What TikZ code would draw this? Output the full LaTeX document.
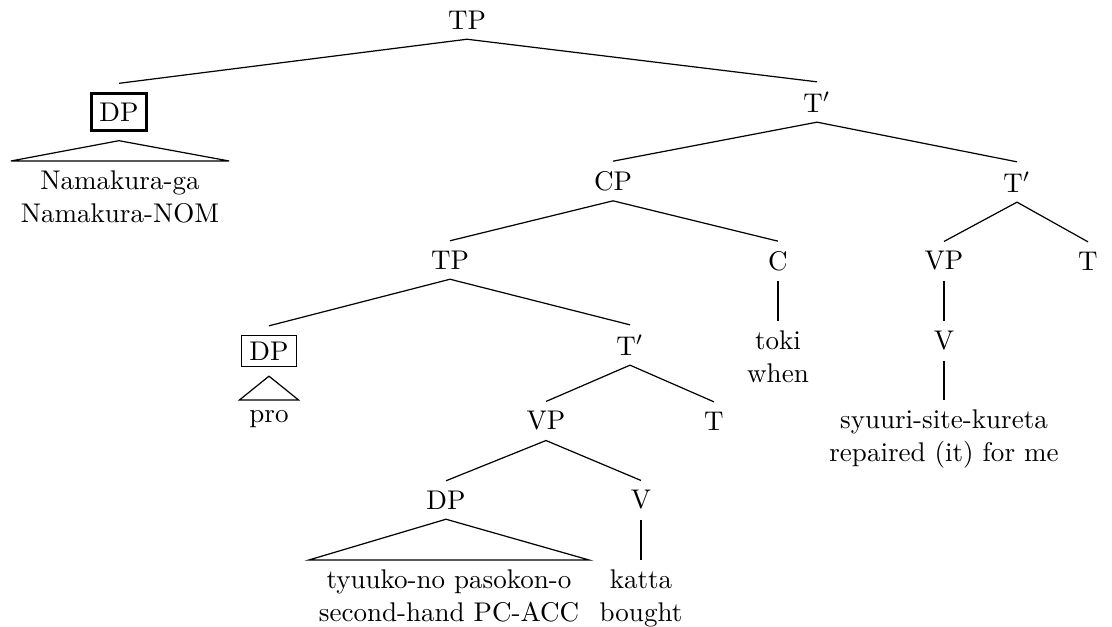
\documentclass[tikz,border=0pt]{standalone}
\usepackage{tikz}
\tikzstyle{cat} = [inner sep=3.5pt]
\tikzstyle{leaf} = [inner sep=3.5pt, align=center, anchor=north]
\tikzstyle{boxcat} = [draw, inner xsep=3pt, inner ysep=2.3pt, outer sep=3.6pt]
\tikzstyle{thickbox} = [draw, very thick, inner xsep=3pt, inner ysep=3.4pt, outer sep=3.8pt]
\tikzstyle{branch} = [line width=0.45pt]

\begin{document}
\begin{tikzpicture}[x=0.37pt, y=-0.37pt]
\useasboundingbox (0,0) rectangle (1112,627);

% Categories
\node (tp) [cat] at (467,20) {TP};
\node (dpsubj) [thickbox] at (119,112) {DP};
\node (tbar) [cat] at (817,102) {T$'$};
\node (cp) [cat] at (613,181) {CP};
\node (tbarr) [cat] at (1017,182) {T$'$};
\node (tpemb) [cat] at (450,260) {TP};
\node (c) [cat] at (778,261) {C};
\node (vpr) [cat] at (944,261) {VP};
\node (tr) [cat] at (1088,261) {T};
\node (dppro) [boxcat] at (269,351) {DP};
\node (tbaremb) [cat] at (630,345) {T$'$};
\node (vr) [cat] at (944,341) {V};
\node (vpemb) [cat] at (546,421) {VP};
\node (temb) [cat] at (714,421) {T};
\node (dpobj) [cat] at (446,500) {DP};
\node (vemb) [cat] at (641,500) {V};

% Leaves
\node (namakura) [leaf] at (120,161) {Namakura-ga\\Namakura-NOM};
\node (pro) [leaf] at (269,400) {pro};
\node (toki) [leaf] at (778,321) {toki\\when};
\node (syuuri) [leaf] at (944,400) {syuuri-site-kureta\\repaired (it) for me};
\node (pasokon) [leaf] at (449,560) {tyuuko-no pasokon-o\\second-hand PC-ACC};
\node (katta) [leaf] at (641,560) {katta\\bought};

% Branches
\draw [branch] (tp.south) -- (dpsubj.north);
\draw [branch] (tp.south) -- (tbar.north);
\draw [branch] (tbar.south) -- (cp.north);
\draw [branch] (tbar.south) -- (tbarr.north);
\draw [branch] (cp.south) -- (tpemb.north);
\draw [branch] (cp.south) -- (c.north);
\draw [branch] (tbarr.south) -- (vpr.north);
\draw [branch] (tbarr.south) -- (tr.north);
\draw [branch] (tpemb.south) -- (dppro.north);
\draw [branch] (tpemb.south) -- (tbaremb.north);
\draw [branch] (c.south) -- (toki.north);
\draw [branch] (vpr.south) -- (vr.north);
\draw [branch] (vr.south) -- (syuuri.north);
\draw [branch] (tbaremb.south) -- (vpemb.north);
\draw [branch] (tbaremb.south) -- (temb.north);
\draw [branch] (vpemb.south) -- (dpobj.north);
\draw [branch] (vpemb.south) -- (vemb.north);
\draw [branch] (vemb.south) -- (katta.north);

% Triangles
\draw [branch] (dpsubj.south) -- (namakura.north west) -- (namakura.north east) -- cycle;
\draw [branch] (dppro.south) -- (pro.north west) -- (pro.north east) -- cycle;
\draw [branch] (dpobj.south) -- (pasokon.north west) -- (pasokon.north east) -- cycle;

\end{tikzpicture}
\end{document}
